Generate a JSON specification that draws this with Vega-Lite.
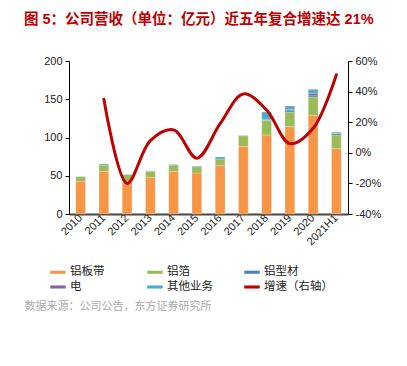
{
  "$schema": "https://vega.github.io/schema/vega-lite/v6.json",
  "autosize": "none",
  "width": 279,
  "height": 153,
  "padding": {"left": 69, "top": 61, "right": 59, "bottom": 152},
  "config": {
    "font": "Liberation Sans, Noto Sans CJK SC, sans-serif",
    "view": {"stroke": null},
    "axis": {"grid": false, "labelFontSize": 11, "labelColor": "#222", "tickColor": "#000", "domainColor": "#000"}
  },
  "title": {
    "text": "图 5：公司营收（单位：亿元）近五年复合增速达 21%",
    "anchor": "start",
    "frame": "group",
    "dx": -45,
    "offset": 28,
    "fontSize": 14.5,
    "fontWeight": "bold",
    "color": "#C00000",
    "font": "Liberation Sans, Noto Sans CJK SC, sans-serif"
  },
  "datasets": {
    "rev": [
      {"year": "2010", "type": "铝板带", "value": 43},
      {"year": "2010", "type": "铝箔", "value": 5.8},
      {"year": "2010", "type": "其他业务", "value": 0.4},
      {"year": "2011", "type": "铝板带", "value": 55.8},
      {"year": "2011", "type": "铝箔", "value": 8.2},
      {"year": "2011", "type": "其他业务", "value": 1.3},
      {"year": "2012", "type": "铝板带", "value": 42},
      {"year": "2012", "type": "铝箔", "value": 9.5},
      {"year": "2012", "type": "其他业务", "value": 0.5},
      {"year": "2013", "type": "铝板带", "value": 48},
      {"year": "2013", "type": "铝箔", "value": 7.8},
      {"year": "2013", "type": "其他业务", "value": 0.7},
      {"year": "2014", "type": "铝板带", "value": 55.8},
      {"year": "2014", "type": "铝箔", "value": 8.2},
      {"year": "2014", "type": "其他业务", "value": 0.8},
      {"year": "2015", "type": "铝板带", "value": 53.6},
      {"year": "2015", "type": "铝箔", "value": 8.3},
      {"year": "2015", "type": "其他业务", "value": 0.7},
      {"year": "2016", "type": "铝板带", "value": 63.2},
      {"year": "2016", "type": "铝箔", "value": 8.7},
      {"year": "2016", "type": "其他业务", "value": 2.6},
      {"year": "2017", "type": "铝板带", "value": 88.5},
      {"year": "2017", "type": "铝箔", "value": 13.9},
      {"year": "2017", "type": "其他业务", "value": 0.6},
      {"year": "2018", "type": "铝板带", "value": 103.3},
      {"year": "2018", "type": "铝箔", "value": 18.7},
      {"year": "2018", "type": "铝型材", "value": 0.8},
      {"year": "2018", "type": "电", "value": 0.5},
      {"year": "2018", "type": "其他业务", "value": 10},
      {"year": "2019", "type": "铝板带", "value": 114.2},
      {"year": "2019", "type": "铝箔", "value": 19.1},
      {"year": "2019", "type": "铝型材", "value": 2.5},
      {"year": "2019", "type": "电", "value": 1.2},
      {"year": "2019", "type": "其他业务", "value": 4.2},
      {"year": "2020", "type": "铝板带", "value": 129},
      {"year": "2020", "type": "铝箔", "value": 24},
      {"year": "2020", "type": "铝型材", "value": 2.5},
      {"year": "2020", "type": "电", "value": 2.5},
      {"year": "2020", "type": "其他业务", "value": 5},
      {"year": "2021H1", "type": "铝板带", "value": 85.4},
      {"year": "2021H1", "type": "铝箔", "value": 17.9},
      {"year": "2021H1", "type": "铝型材", "value": 2.1},
      {"year": "2021H1", "type": "电", "value": 0.3},
      {"year": "2021H1", "type": "其他业务", "value": 1.3}
    ],
    "growth": [
      {"year": "2011", "series": "增速（右轴）", "growth": 35},
      {"year": "2012", "series": "增速（右轴）", "growth": -20},
      {"year": "2013", "series": "增速（右轴）", "growth": 8},
      {"year": "2014", "series": "增速（右轴）", "growth": 15},
      {"year": "2015", "series": "增速（右轴）", "growth": -3.5},
      {"year": "2016", "series": "增速（右轴）", "growth": 19},
      {"year": "2017", "series": "增速（右轴）", "growth": 38.5},
      {"year": "2018", "series": "增速（右轴）", "growth": 28},
      {"year": "2019", "series": "增速（右轴）", "growth": 6},
      {"year": "2020", "series": "增速（右轴）", "growth": 16},
      {"year": "2021H1", "series": "增速（右轴）", "growth": 51}
    ]
  },
  "encoding": {
    "x": {
      "field": "year",
      "type": "ordinal",
      "scale": {"paddingInner": 0.58, "paddingOuter": 0.29},
      "axis": {
        "title": "数据来源：公司公告，东方证券研究所",
        "titleFontSize": 11,
        "titleFontWeight": "normal",
        "titleColor": "#aaaaaa",
        "titleAnchor": "start",
        "titleAlign": "left",
        "titleX": -45,
        "titleY": 86,
        "labelAngle": -45,
        "labelAlign": "right",
        "labelBaseline": "middle",
        "labelPadding": 2,
        "ticks": false,
        "domainColor": "#444",
        "domainWidth": 2
      }
    }
  },
  "layer": [
    {
      "data": {"name": "rev"},
      "transform": [
        {"calculate": "indexof(['铝板带', '铝箔', '铝型材', '电', '其他业务'], datum.type)", "as": "stackRank"}
      ],
      "mark": {"type": "bar", "stroke": "#ffffff", "strokeWidth": 0.4, "strokeOpacity": 0.6},
      "encoding": {
        "y": {
          "field": "value",
          "type": "quantitative",
          "stack": "zero",
          "scale": {"domain": [0, 200]},
          "axis": {"title": null, "values": [0, 50, 100, 150, 200], "tickSize": 4, "labelPadding": 3}
        },
        "color": {
          "field": "type",
          "type": "nominal",
          "scale": {
            "domain": ["铝板带", "铝箔", "铝型材", "电", "其他业务", "增速（右轴）"],
            "range": ["#F79646", "#9BBB59", "#4F81BD", "#8064A2", "#4BACC6", "#C00000"]
          },
          "legend": {
            "title": null,
            "orient": "none",
            "direction": "horizontal",
            "legendX": -19,
            "legendY": 203,
            "columns": 3,
            "gridAlign": "all",
            "columnPadding": 8,
            "rowPadding": 1,
            "symbolType": "M-1,-0.2H1V0.2H-1Z",
            "symbolSize": 240,
            "symbolStrokeWidth": 0,
            "labelFontSize": 11.5,
            "labelColor": "#222",
            "labelOffset": 4
          }
        },
        "order": {"field": "stackRank", "type": "quantitative", "sort": "ascending"}
      }
    },
    {
      "data": {"name": "growth"},
      "mark": {"type": "line", "interpolate": "catmull-rom", "strokeWidth": 3, "strokeCap": "round"},
      "encoding": {
        "y": {
          "field": "growth",
          "type": "quantitative",
          "scale": {"domain": [-40, 60]},
          "axis": {"title": null, "orient": "right", "values": [-40, -20, 0, 20, 40, 60], "labelExpr": "datum.value + '%'", "tickSize": 4, "labelPadding": 3}
        },
        "color": {"field": "series", "type": "nominal"}
      }
    }
  ],
  "resolve": {"scale": {"y": "independent"}}
}
